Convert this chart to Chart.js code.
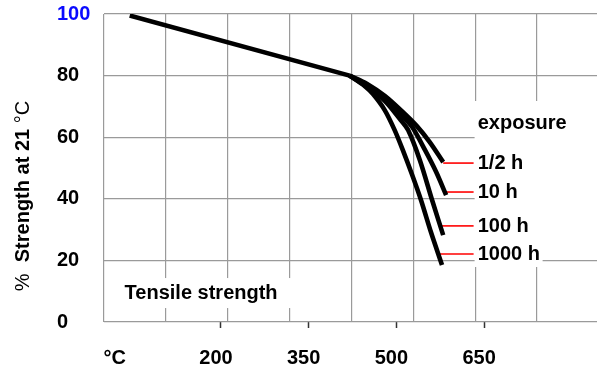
<!DOCTYPE html>
<html>
<head>
<meta charset="utf-8">
<script src="https://cdn.jsdelivr.net/npm/chart.js@4.4.1/dist/chart.umd.min.js"></script>
<style>
  html, body { margin: 0; padding: 0; background: #fff; }
  #wrap { width: 597px; height: 374px; }
</style>
</head>
<body>
<div id="wrap"><canvas id="chart" width="597" height="374"></canvas></div>
<script>
// shared part of the curve (all exposures)
const baseTemp = [44, 420];
const baseStrength = [99.5, 80];

// branches after the knee, one per exposure time
const halfHourTemp = [420, 450, 480, 509, 535, 557, 580];
const halfHourStrength = [80, 77.3, 73.4, 68.5, 63.6, 58.4, 51.9];
const tenHourTemp = [420, 450, 480, 509, 527, 549, 568, 585];
const tenHourStrength = [80, 76.6, 72.4, 67.2, 63.3, 55.8, 48.7, 41.2];
const hundredHourTemp = [420, 450, 480, 506, 520, 540, 561, 580];
const hundredHourStrength = [80, 76.3, 71.8, 65.9, 62.3, 52.6, 39.6, 28.2];
const thousandHourTemp = [420, 446, 460, 480, 497, 511, 527, 542, 559, 578];
const thousandHourStrength = [80, 76.6, 74.0, 68.8, 62.3, 55.8, 47.7, 39.6, 29.2, 18.5];

// labels on the right and their red leader lines
const exposureLabels = ['1/2 h', '10 h', '100 h', '1000 h'];
const leaderStrength = [51.6, 42.2, 31.2, 22.1];
const leaderStartTemp = [580, 583, 578, 571];
const leaderEndTemp = 632;

// axes
const xTickValues = [27, 200, 350, 500, 650];
const xTickLabels = ['°C', '200', '350', '500', '650'];
const yTickValues = [0, 20, 40, 60, 80, 100];

const FONT = "'Liberation Sans', Arial, sans-serif";
const GRID = '#9a9a9a';

function points(xs, ys) {
    return xs.map((x, i) => ({ x: x, y: ys[i] }));
}

function curve(xs, ys) {
    return {
        data: points(xs, ys),
        borderColor: '#000',
        borderWidth: 4.6,
        pointRadius: 0,
        tension: 0.3,
        fill: false
    };
}

const datasets = [
    Object.assign(curve(baseTemp, baseStrength), { tension: 0 }),
    curve(halfHourTemp, halfHourStrength),
    curve(tenHourTemp, tenHourStrength),
    curve(hundredHourTemp, hundredHourStrength),
    curve(thousandHourTemp, thousandHourStrength)
];

leaderStrength.forEach((v, i) => {
    datasets.push({
        data: [{ x: leaderStartTemp[i], y: v }, { x: leaderEndTemp, y: v }],
        borderColor: '#ff0000',
        borderWidth: 1.6,
        pointRadius: 0,
        tension: 0,
        fill: false
    });
});

const labelsPlugin = {
    id: 'labels',
    beforeDatasetsDraw(chart) {
        const ctx = chart.ctx;
        const x = chart.scales.x;
        const y = chart.scales.y;
        ctx.save();
        ctx.fillStyle = '#fff';
        // white area behind the exposure legend
        const lx = x.getPixelForValue(leaderEndTemp) + 1;
        ctx.fillRect(lx, 101, chart.width - lx, 156);
        ctx.fillRect(lx, 245, 68, 22);
        // white area behind "Tensile strength"
        ctx.font = 'bold 20px ' + FONT;
        const tw = ctx.measureText('Tensile strength').width;
        const cx = x.getPixelForValue(166);
        const cy = y.getPixelForValue(9.4);
        ctx.fillRect(cx - tw / 2 - 14, cy - 15, tw + 28, 30);
        ctx.restore();
    },
    afterDatasetsDraw(chart) {
        const ctx = chart.ctx;
        const x = chart.scales.x;
        const y = chart.scales.y;
        ctx.save();
        ctx.fillStyle = '#000';
        ctx.textBaseline = 'middle';
        ctx.font = 'bold 20px ' + FONT;

        ctx.textAlign = 'center';
        ctx.fillText('Tensile strength', x.getPixelForValue(166), y.getPixelForValue(9.4));

        ctx.textAlign = 'left';
        const tx = x.getPixelForValue(639);
        ctx.fillText('exposure', tx, y.getPixelForValue(64.6));
        exposureLabels.forEach((t, i) => {
            ctx.fillText(t, tx, y.getPixelForValue(leaderStrength[i]) + 0.5);
        });

        // rotated y title
        ctx.translate(23, 196);
        ctx.rotate(-Math.PI / 2);
        const parts = [
            ['%  ', '20px '],
            ['Strength at 21 ', 'bold 20px '],
            ['°C', '20px ']
        ];
        let total = 0;
        parts.forEach(p => { ctx.font = p[1] + FONT; total += ctx.measureText(p[0]).width; });
        let px = -total / 2;
        parts.forEach(p => {
            ctx.font = p[1] + FONT;
            ctx.fillText(p[0], px, 0);
            px += ctx.measureText(p[0]).width;
        });
        ctx.restore();
    }
};

new Chart(document.getElementById('chart'), {
    type: 'line',
    data: { datasets: datasets },
    plugins: [labelsPlugin],
    options: {
        responsive: false,
        animation: false,
        layout: { padding: { left: 57, top: 14, right: 0, bottom: 0 } },
        plugins: {
            legend: { display: false },
            tooltip: { enabled: false }
        },
        scales: {
            x: {
                type: 'linear',
                position: 'bottom',
                min: 0,
                max: 843,
                afterBuildTicks: (scale) => {
                    scale.ticks = xTickValues.map(v => ({ value: v }));
                },
                afterFit: (scale) => { scale.height = 52; },
                border: { display: false },
                grid: {
                    drawOnChartArea: false,
                    drawTicks: true,
                    tickLength: 6,
                    tickWidth: 1.5,
                    tickColor: (c) => (c.tick && c.tick.value === 27) ? 'rgba(0,0,0,0)' : '#333'
                },
                ticks: {
                    autoSkip: false,
                    maxRotation: 0,
                    padding: 18,
                    labelOffset: -5,
                    color: '#000',
                    font: { family: FONT, size: 20, weight: 'bold' },
                    callback: (v) => xTickLabels[xTickValues.indexOf(v)]
                }
            },
            xGrid: {
                type: 'linear',
                position: 'bottom',
                min: 0,
                max: 7.97,
                afterBuildTicks: (scale) => {
                    scale.ticks = [0, 1, 2, 3, 4, 5, 6, 7].map(v => ({ value: v }));
                },
                afterFit: (scale) => { scale.height = 0; },
                border: { display: false },
                grid: { color: GRID, lineWidth: 1.2, drawTicks: false },
                ticks: { display: false }
            },
            y: {
                type: 'linear',
                min: 0,
                max: 100,
                afterBuildTicks: (scale) => {
                    scale.ticks = yTickValues.map(v => ({ value: v }));
                },
                afterFit: (scale) => { scale.width = 47; },
                border: { display: false },
                grid: { color: GRID, lineWidth: 1.2, drawTicks: false },
                ticks: {
                    crossAlign: 'far',
                    padding: 0,
                    color: (c) => c.tick.value === 100 ? '#0a0aff' : '#000',
                    font: { family: FONT, size: 20, weight: 'bold' }
                }
            }
        }
    }
});
</script>
</body>
</html>
